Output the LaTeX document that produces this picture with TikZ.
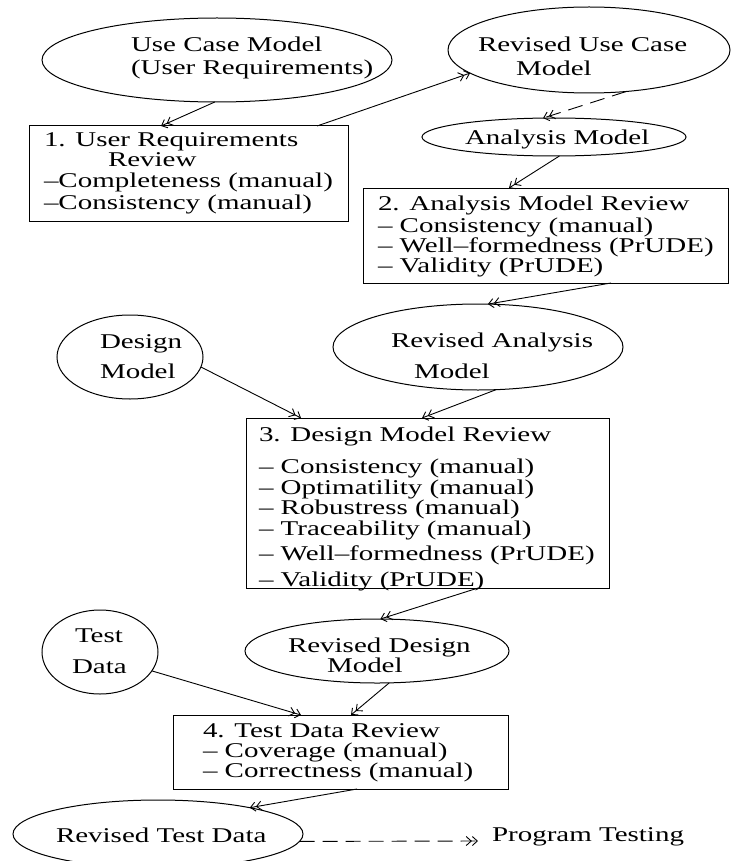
\documentclass[tikz,border=0pt]{standalone}
\usepackage{fontspec}
\setmainfont[FakeStretch=1.38]{Liberation Serif}
\usetikzlibrary{shapes.geometric,arrows.meta,calc}

\begin{document}
\begin{tikzpicture}[x=1pt,y=-1pt,
  every node/.style={inner sep=0pt,outer sep=0pt},
  lbl/.style={anchor=base west,font=\fontsize{21}{21}\selectfont},
  oval/.style={draw,ellipse,line width=1pt},
  revbox/.style={draw,rectangle,line width=1pt,anchor=north west},
  flow/.style={line width=0.9pt,-{Straight Barb[length=5pt,width=9pt]Straight Barb[length=5pt,width=9pt]}},
  later/.style={flow,dash pattern=on 15pt off 8pt}]

\fill[white] (0,0) rectangle (731,861);
\useasboundingbox (0,0) rectangle (731,861);
\clip (0,0) rectangle (731,861);

% ---- models (ellipses) ----
\node[oval,minimum width=350pt,minimum height=84pt] (uc)  at (217,60)  {};
\node[oval,minimum width=282pt,minimum height=86pt] (ruc) at (589,50)  {};
\node[oval,minimum width=264pt,minimum height=38pt] (am)  at (554,137) {};
\node[oval,minimum width=146pt,minimum height=84pt] (dm)  at (130,357) {};
\node[oval,minimum width=290pt,minimum height=86pt] (ra)  at (478,347) {};
\node[oval,minimum width=116pt,minimum height=84pt] (td)  at (100,652) {};
\node[oval,minimum width=264pt,minimum height=64pt] (rd)  at (377,651) {};
\node[oval,minimum width=290pt,minimum height=68pt] (rt)  at (158,834) {};

\node[lbl] (ucA)  at (131,52)  {Use Case Model};
\node[lbl] (ucB)  at (131,75)  {(User Requirements)};
\node[lbl] (rucA) at (478,52)  {Revised Use Case};
\node[lbl] (rucB) at (516,76)  {Model};
\node[lbl] (amA)  at (465,145) {Analysis Model};
\node[lbl] (dmA)  at (100,348) {Design};
\node[lbl] (dmB)  at (100,378) {Model};
\node[lbl] (raA)  at (391,347) {Revised Analysis};
\node[lbl] (raB)  at (414,378) {Model};
\node[lbl] (tdA)  at (75,642)  {Test};
\node[lbl] (tdB)  at (72,673)  {Data};
\node[lbl] (rdA)  at (288,652) {Revised Design};
\node[lbl] (rdB)  at (327,672) {Model};
\node[lbl] (rtA)  at (56,842)  {Revised Test Data};
\node[lbl] (pt)   at (492,841) {Program Testing};

% ---- reviews (boxes) ----
\node[revbox,minimum width=319pt,minimum height=95pt]  (b1) at (29,126)  {};
\node[revbox,minimum width=365pt,minimum height=95pt]  (b2) at (363,188) {};
\node[revbox,minimum width=363pt,minimum height=170pt] (b3) at (246,418) {};
\node[revbox,minimum width=335pt,minimum height=74pt]  (b4) at (173,715) {};

\node[lbl] (b1a) at (44,147)  {1. User Requirements};
\node[lbl] (b1b) at (108,167) {Review};
\node[lbl] (b1c) at (44,187)  {–Completeness (manual)};
\node[lbl] (b1d) at (44,209)  {–Consistency (manual)};

\node[lbl] (b2a) at (378,210) {2. Analysis Model Review};
\node[lbl] (b2b) at (378,232) {– Consistency (manual)};
\node[lbl] (b2c) at (378,252) {– Well–formedness (PrUDE)};
\node[lbl] (b2d) at (378,272) {– Validity (PrUDE)};

\node[lbl] (b3a) at (259,441) {3. Design Model Review};
\node[lbl] (b3b) at (259,473) {– Consistency (manual)};
\node[lbl] (b3c) at (259,494) {– Optimatility (manual)};
\node[lbl] (b3d) at (259,514) {– Robustress (manual)};
\node[lbl] (b3e) at (259,535) {– Traceability (manual)};
\node[lbl] (b3f) at (259,560) {– Well–formedness (PrUDE)};
\node[lbl] (b3g) at (259,586) {– Validity (PrUDE)};

\node[lbl] (b4a) at (203,737) {4. Test Data Review};
\node[lbl] (b4b) at (203,757) {– Coverage (manual)};
\node[lbl] (b4c) at (203,777) {– Correctness (manual)};

% ---- connectors ----
\draw[flow] (uc.267) -- ($(b1.north west)+(132,0)$);
\draw[flow] ($(b1.north west)+(288,0)$) -- (ruc.191);
\draw[later] (ruc.-48) -- (am.120);
\draw[flow] (am.-74) -- ($(b2.north west)+(146,0)$);
\draw[flow] ($(b2.south west)+(248,0)$) -- (ra.77);
\draw[flow] (dm.-8) -- ($(b3.north west)+(55,0)$);
\draw[flow] (ra.-67) -- ($(b3.north west)+(176,0)$);
\draw[flow] ($(b3.south west)+(232,0)$) -- (rd.84);
\draw[flow] (td.-20) -- ($(b4.north west)+(128,0)$);
\draw[flow] (rd.-69) -- ($(b4.north west)+(178,0)$);
\draw[flow] ($(b4.south west)+(184,0)$) -- (rt.16);
\draw[later] (rt.-3) -- ([xshift=-14pt]pt.base west);
\end{tikzpicture}
\end{document}
